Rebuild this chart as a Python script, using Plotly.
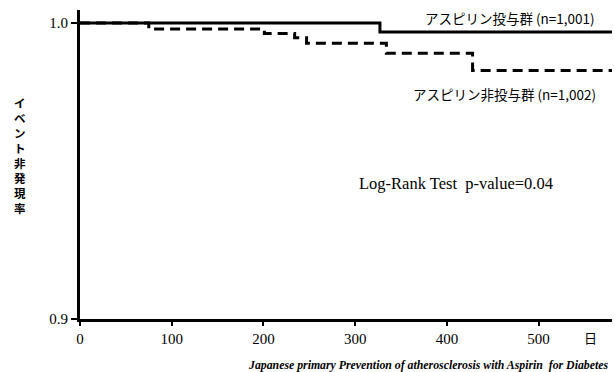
import plotly.graph_objects as go

# Data
days_aspirin = [0, 327, 580]
surv_aspirin = [1.0, 0.997, 0.997]

days_no_aspirin = [0, 75, 201, 234, 247, 334, 428, 580]
surv_no_aspirin = [1.0, 0.998, 0.9965, 0.995, 0.9932, 0.9898, 0.984, 0.984]

x_ticks = [0, 100, 200, 300, 400, 500]
y_ticks = [0.9, 1.0]
y_tick_labels = ["0.9", "1.0"]

label_aspirin = "アスピリン投与群 (n=1,001)"
label_no_aspirin = "アスピリン非投与群 (n=1,002)"
y_title = "イベント非発現率"
x_unit = "日"
test_text = "Log-Rank Test  p-value=0.04"
footer = "Japanese primary Prevention of atherosclerosis with Aspirin  for Diabetes"

W, H = 615, 372
ML, MR, MT, MB = 80, 3, 10, 53
PW, PH = W - ML - MR, H - MT - MB


def px(x):
    return (x - ML) / PW


def py(y):
    return (H - MB - y) / PH


serif = "Liberation Serif"
jp = "Noto Sans CJK JP"

fig = go.Figure()
fig.add_trace(go.Scatter(x=days_aspirin, y=surv_aspirin, mode="lines",
                         line=dict(color="black", width=3, shape="hv"),
                         showlegend=False, hoverinfo="skip"))
fig.add_trace(go.Scatter(x=days_no_aspirin, y=surv_no_aspirin, mode="lines",
                         line=dict(color="black", width=3, shape="hv", dash="10px,6px"),
                         showlegend=False, hoverinfo="skip"))

fig.update_layout(
    width=W, height=H,
    margin=dict(l=ML, r=MR, t=MT, b=MB),
    paper_bgcolor="white", plot_bgcolor="white",
    font=dict(family=serif, color="black", size=15),
    xaxis=dict(range=[0, 580], tickvals=x_ticks, showgrid=False, zeroline=False,
               showline=True, linecolor="black", linewidth=3,
               ticks="outside", ticklen=4, tickwidth=2, tickcolor="black",
               tickfont=dict(family=serif, size=15)),
    yaxis=dict(range=[0.9, 1.0044], tickvals=y_ticks, ticktext=y_tick_labels,
               showgrid=False, zeroline=False,
               showline=True, linecolor="black", linewidth=3,
               ticks="outside", ticklen=6, tickwidth=2, tickcolor="black",
               tickfont=dict(family=serif, size=15)),
)

annos = [
    dict(x=px(597), y=py(18), text=label_aspirin,
         xanchor="right", yanchor="middle", font=dict(family=jp, size=13.5)),
    dict(x=px(598), y=py(94), text=label_no_aspirin,
         xanchor="right", yanchor="middle", font=dict(family=jp, size=13.5)),
    dict(x=px(456), y=py(183), text=test_text,
         xanchor="center", yanchor="middle", font=dict(family=serif, size=16.5)),
    dict(x=px(590), y=py(337), text=x_unit,
         xanchor="center", yanchor="middle", font=dict(family=jp, size=13)),
    dict(x=px(610), y=py(365), text="<b><i>" + footer + "</i></b>",
         xanchor="right", yanchor="middle",
         font=dict(family="Liberation Sans Narrow", size=11.8)),
    dict(x=px(20), y=py(155), text="<b>" + "<br>".join(y_title) + "</b>",
         xanchor="center", yanchor="middle", font=dict(family=jp, size=11.5)),
]
for a in annos:
    a.update(xref="paper", yref="paper", showarrow=False)
fig.update_layout(annotations=annos)

fig.write_html("out.html", config={"displayModeBar": False},
               post_script="document.body.style.margin='0';")
